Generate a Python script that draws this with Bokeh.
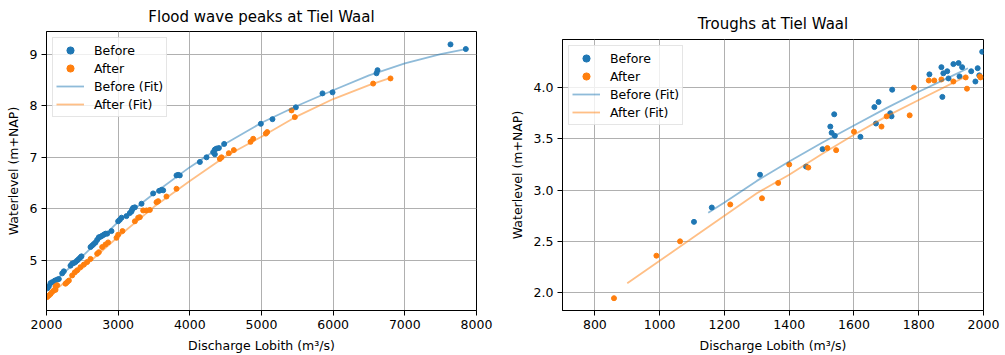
from bokeh.plotting import figure
from bokeh.layouts import row
from bokeh.models import Range1d, FixedTicker, NumeralTickFormatter
from bokeh.embed import file_html
from bokeh.resources import INLINE

BLUE = "#1f77b4"
ORANGE = "#ff7f0e"
FONT = "DejaVu Sans"

# ---------------- Flood wave peaks (left) ----------------
peak_before_q = [2012, 2033, 2056, 2079, 2116, 2149, 2172, 2219, 2242, 2335, 2358, 2381, 2405,
                 2428, 2451, 2474, 2488, 2614, 2637, 2660, 2684, 2707, 2730, 2753, 2777, 2800,
                 2824, 2847, 2907, 3000, 3023, 3047, 3116, 3163, 3186, 3195, 3209, 3233, 3326,
                 3488, 3572, 3605, 3628, 3814, 3837, 3860, 4140, 4233, 4326, 4349, 4372, 4349,
                 4405, 4479, 4991, 5153, 5479, 5851, 5991, 6605, 6619, 7637, 7851]
peak_before_h = [4.46, 4.50, 4.56, 4.58, 4.61, 4.63, 4.64, 4.75, 4.79, 4.90, 4.94, 4.95, 4.97,
                 5.00, 5.03, 5.06, 5.08, 5.26, 5.29, 5.32, 5.35, 5.40, 5.45, 5.46, 5.48, 5.50,
                 5.52, 5.52, 5.57, 5.76, 5.79, 5.83, 5.86, 5.92, 5.95, 5.99, 6.02, 6.03, 6.10,
                 6.30, 6.35, 6.37, 6.36, 6.65, 6.66, 6.65, 6.91, 7.00, 7.10, 7.15, 7.17, 7.06,
                 7.18, 7.26, 7.65, 7.74, 7.97, 8.24, 8.26, 8.63, 8.69, 9.19, 9.10]

peak_after_q = [2009, 2033, 2056, 2079, 2102, 2126, 2126, 2149, 2265, 2288, 2312, 2358, 2395,
                2428, 2474, 2521, 2567, 2614, 2707, 2730, 2777, 2823, 2860, 2977, 3000, 3060,
                3233, 3279, 3302, 3349, 3395, 3442, 3535, 3558, 3674, 3814, 4419, 4442, 4544,
                4614, 4847, 4884, 5060, 5079, 5419, 5465, 6558, 6800]
peak_after_h = [4.29, 4.32, 4.35, 4.39, 4.42, 4.43, 4.50, 4.52, 4.55, 4.58, 4.61, 4.71, 4.77,
                4.81, 4.87, 4.92, 4.97, 5.03, 5.13, 5.16, 5.26, 5.31, 5.35, 5.44, 5.50, 5.57,
                5.76, 5.83, 5.84, 5.97, 5.97, 5.98, 6.13, 6.15, 6.24, 6.39, 6.97, 7.00, 7.08,
                7.14, 7.30, 7.36, 7.46, 7.49, 7.91, 7.78, 8.43, 8.53]

peak_fit_before_q = [2000, 2500, 3000, 3500, 4000, 4500, 5000, 5500, 6000, 6500, 7000, 7500, 7850]
peak_fit_before_h = [4.46, 5.08, 5.75, 6.30, 6.81, 7.27, 7.67, 8.00, 8.30, 8.59, 8.82, 9.00, 9.10]
peak_fit_after_q = [2000, 2500, 3000, 3500, 4000, 4500, 5000, 5500, 6000, 6500, 6800]
peak_fit_after_h = [4.29, 4.85, 5.46, 6.04, 6.54, 7.02, 7.40, 7.80, 8.13, 8.40, 8.54]

peak_xticks = [2000, 3000, 4000, 5000, 6000, 7000, 8000]
peak_yticks = [5, 6, 7, 8, 9]

# ---------------- Troughs (right) ----------------
trough_before_q = [1106, 1161, 1310, 1452, 1503, 1527, 1531, 1539, 1541, 1620, 1663, 1668, 1676,
                   1712, 1716, 1718, 1833, 1870, 1873, 1876, 1888, 1892, 1907, 1923, 1926, 1934,
                   1962, 1975, 1982, 1996, 1987]
trough_before_h = [2.69, 2.83, 3.15, 3.23, 3.40, 3.62, 3.56, 3.74, 3.53, 3.52, 3.81, 3.65, 3.86,
                   3.75, 3.72, 3.98, 4.13, 4.20, 3.91, 4.14, 4.16, 4.09, 4.23, 4.24, 4.11, 4.20,
                   4.16, 4.06, 4.19, 4.35, 4.12]

trough_after_q = [859, 990, 1063, 1218, 1316, 1366, 1400, 1459, 1518, 1545, 1600, 1685, 1701,
                  1772, 1785, 1831, 1848, 1870, 1907, 1945, 1949, 1989, 1991]
trough_after_h = [1.945, 2.36, 2.50, 2.86, 2.92, 3.07, 3.25, 3.22, 3.41, 3.39, 3.57, 3.62, 3.72,
                  3.73, 4.00, 4.07, 4.07, 4.08, 4.06, 4.10, 3.99, 4.11, 4.10]

trough_fit_before_q = [1150, 1200, 1300, 1400, 1500, 1600, 1700, 1800, 1900, 1952]
trough_fit_before_h = [2.78, 2.88, 3.09, 3.28, 3.46, 3.63, 3.80, 3.96, 4.11, 4.19]
trough_fit_after_q = [900, 1000, 1100, 1200, 1300, 1400, 1500, 1600, 1700, 1800, 1946]
trough_fit_after_h = [2.09, 2.31, 2.53, 2.75, 2.97, 3.15, 3.35, 3.54, 3.72, 3.88, 4.11]

trough_xticks = [800, 1000, 1200, 1400, 1600, 1800, 2000]
trough_yticks = [2.0, 2.5, 3.0, 3.5, 4.0]


def make_plot(title, width, xr, yr, bl, br, bt, bb, standoff):
    p = figure(width=width, height=355, x_range=Range1d(*xr), y_range=Range1d(*yr),
               output_backend="svg", toolbar_location=None, frame_align=False,
               min_border_left=bl, min_border_right=br, min_border_top=bt, min_border_bottom=bb)
    p.title.text = title
    p.title.align = "center"
    p.title.standoff = standoff
    p.title.text_font = FONT
    p.title.text_font_size = "15px"
    p.title.text_font_style = "normal"
    p.title.text_color = "black"
    p.outline_line_color = "black"
    p.outline_line_width = 1
    p.outline_line_alpha = 1
    p.background_fill_color = "white"
    p.border_fill_color = "white"
    for ax in (p.xaxis, p.yaxis):
        ax.axis_line_color = "black"
        ax.major_tick_line_color = "black"
        ax.major_tick_out = 5
        ax.major_tick_in = 0
        ax.minor_tick_line_color = None
        ax.major_label_text_font = FONT
        ax.major_label_text_font_size = "12.5px"
        ax.major_label_text_color = "black"
        ax.major_label_standoff = 4
        ax.axis_label_text_font = FONT
        ax.axis_label_text_font_size = "12.5px"
        ax.axis_label_text_font_style = "normal"
        ax.axis_label_text_color = "black"
        ax.axis_label_standoff = 6
    p.xaxis.axis_label = "Discharge Lobith (m³/s)"
    p.yaxis.axis_label = "Waterlevel (m+NAP)"
    p.grid.grid_line_color = "#b0b0b0"
    p.grid.grid_line_width = 1
    return p


def add_series(p, bq, bh, aq, ah, fbq, fbh, faq, fah):
    p.scatter(bq, bh, size=5, color=BLUE, legend_label="Before")
    p.scatter(aq, ah, size=5, color=ORANGE, legend_label="After")
    p.line(fbq, fbh, line_width=1.8, color=BLUE, alpha=0.5, legend_label="Before (Fit)")
    p.line(faq, fah, line_width=1.8, color=ORANGE, alpha=0.5, legend_label="After (Fit)")
    lg = p.legend[0]
    lg.location = "top_left"
    lg.margin = 6
    lg.padding = 3
    lg.spacing = 0
    lg.glyph_width = 28
    lg.glyph_height = 18
    lg.label_height = 18
    lg.label_standoff = 10
    lg.label_text_font = FONT
    lg.label_text_font_size = "12.5px"
    lg.label_text_color = "black"
    lg.border_line_color = "#cccccc"
    lg.border_line_width = 1
    lg.background_fill_alpha = 0.8


p1 = make_plot("Flood wave peaks at Tiel Waal", 505, (2000, 8000), (4.03, 9.44), 46, 29, 31, 45, 11)
add_series(p1, peak_before_q, peak_before_h, peak_after_q, peak_after_h,
           peak_fit_before_q, peak_fit_before_h, peak_fit_after_q, peak_fit_after_h)
p1.xaxis.ticker = FixedTicker(ticks=peak_xticks)
p1.yaxis.ticker = FixedTicker(ticks=peak_yticks)

p2 = make_plot("Troughs at Tiel Waal", 500, (700, 2000), (1.825, 4.47), 57, 22, 39, 45, 13)
add_series(p2, trough_before_q, trough_before_h, trough_after_q, trough_after_h,
           trough_fit_before_q, trough_fit_before_h, trough_fit_after_q, trough_fit_after_h)
p2.xaxis.ticker = FixedTicker(ticks=trough_xticks)
p2.yaxis.ticker = FixedTicker(ticks=trough_yticks)
p2.yaxis.formatter = NumeralTickFormatter(format="0.0")

layout = row(p1, p2)
open("out.html", "w").write(file_html(layout, INLINE))
